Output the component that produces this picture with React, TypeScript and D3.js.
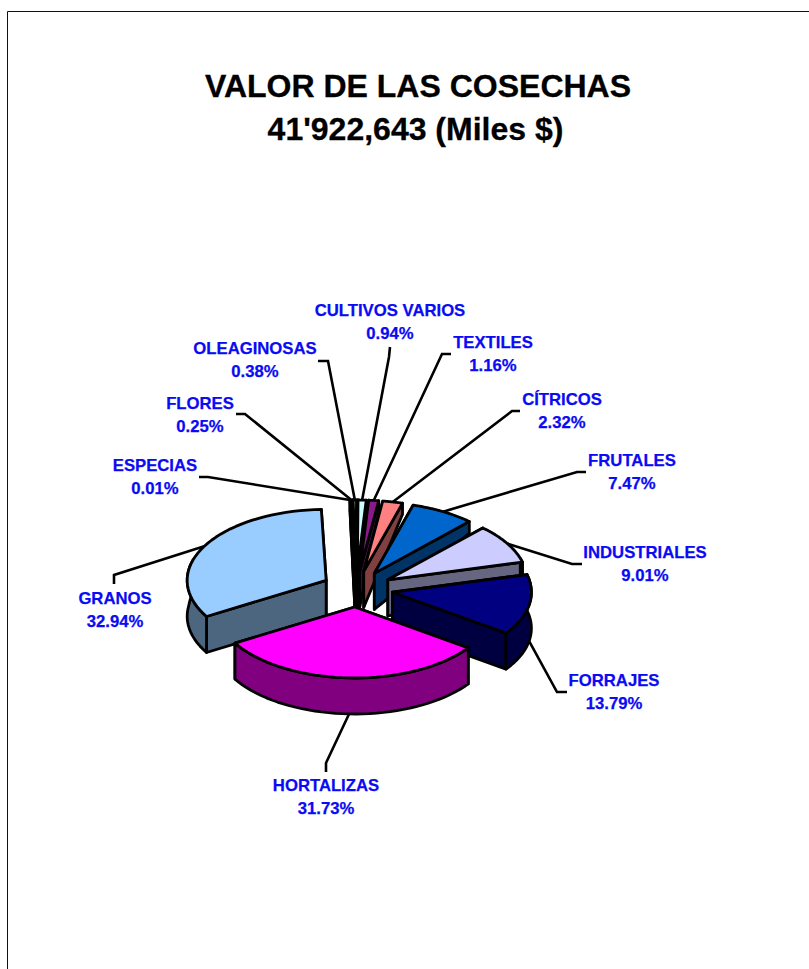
import React from "react";
import * as d3 from "d3";

const WIDTH = 809;
const HEIGHT = 969;

// Data, clockwise from the top of the pie
const categories = ["ESPECIAS", "FLORES", "OLEAGINOSAS", "CULTIVOS VARIOS", "TEXTILES", "CÍTRICOS", "FRUTALES", "INDUSTRIALES", "FORRAJES", "HORTALIZAS", "GRANOS"];
const shares = [0.01, 0.25, 0.38, 0.94, 1.16, 2.32, 7.47, 9.01, 13.79, 31.73, 32.94];
const titleLines = ["VALOR DE LAS COSECHAS", "41'922,643 (Miles $)"];
const titleX = [418, 415.5];

// Styling
const topColors = ["#9999FF", "#993366", "#FFFFCC", "#CCFFFF", "#8A1A8A", "#FF8080", "#0066CC", "#CCCCFF", "#000080", "#FF00FF", "#99CCFF"];
const sideColors = ["#4D4D80", "#4D1A33", "#808066", "#668080", "#450D45", "#804040", "#003366", "#666680", "#000040", "#800080", "#4D6680"];
const drawOrder = [0, 1, 2, 3, 4, 5, 6, 7, 8, 10, 9];

// Layout of the label blocks: centre x, first baseline, and the leader's elbow
const labelX = [155, 200, 255, 390, 493, 562, 632, 645, 614, 326, 115];
const labelY = [471, 409, 354, 316, 348, 405, 466, 558, 686, 791, 604];
const leaderStart = [[199, 477], [236, 414], [318, 361], [390, 347], [451, 354], [520, 411], [586, 472], [582, 564], [567, 692], [326, 772], [114, 584]];
const leaderElbow = [[208, 477], [245, 414], [328, 361], [389, 357], [442, 354], [512, 411], [577, 472], [572, 564], [557, 692], [326, 763], [114, 575]];

const CX = 356, CY = 589, RX = 139, RY = 71, EX_LEFT = 34, EX_RIGHT = 37, EY = 18;
const ROT = (-2 * Math.PI) / 180;
const depth = (y: number) => Math.max(11, Math.min(36, 12 + (y - 522) * 0.5));

const pie = d3.pie<number>().sort(null).startAngle(ROT).endAngle(ROT + 2 * Math.PI);
const arcs = pie(shares);
const lineGen = d3.line<number[]>().x((d) => d[0]).y((d) => d[1]);

type Pt = [number, number];

function sliceParts(i: number) {
  const a0 = arcs[i].startAngle, a1 = arcs[i].endAngle, mid = (a0 + a1) / 2;
  const sm = Math.sin(mid);
  const ax = CX + (sm > 0 ? EX_RIGHT : EX_LEFT) * sm, ay = CY - EY * Math.cos(mid);
  const rim = (t: number): Pt => [ax + RX * Math.sin(t), ay - RY * Math.cos(t)];
  const down = (p: Pt): Pt => [p[0], p[1] + depth(p[1])];
  const steps = d3.range(0, 41).map((k) => a0 + ((a1 - a0) * k) / 40);
  const apex: Pt = [ax, ay];
  const rimPts = steps.map(rim);
  const top = lineGen([apex, ...rimPts])! + "Z";
  const wall = (t: number) => {
    const p = rim(t);
    return { y: p[1], d: lineGen([apex, p, down(p), down(apex)])! + "Z" };
  };
  const walls = [wall(a0), wall(a1)].sort((a, b) => a.y - b.y).map((w) => w.d);
  // outer wall: only the part of the rim that turns towards the viewer
  const front = steps.filter((t) => t >= Math.PI * 0.4 && t < Math.PI * 1.6).map(rim);
  const outer = front.length > 1 ? lineGen([...front, ...front.slice().reverse().map(down)])! + "Z" : null;
  return { top, walls, outer, anchor: rim(mid), anchorLow: down(rim(mid)), mid };
}

const parts = categories.map((_, i) => sliceParts(i));

export default function App() {
  const font = "'Liberation Sans', Arial, sans-serif";
  return (
    <svg width={WIDTH} height={HEIGHT} style={{ position: "absolute", left: 0, top: 0, background: "#fff" }}>
      <path d={`M7.5,${HEIGHT}V11.5H${WIDTH}`} fill="none" stroke="#111" strokeWidth={1} />
      {titleLines.map((t, i) => (
        <text key={t} x={titleX[i]} y={97 + i * 43} textAnchor="middle" fontFamily={font} fontWeight="bold" fontSize={32} fill="#000" stroke="#000" strokeWidth={0.3}>{t}</text>
      ))}
      {categories.map((c, i) => {
        const p = parts[i];
        const facingFront = Math.abs(p.mid - Math.PI) < Math.PI / 3;
        const end = facingFront || (p.mid > Math.PI * 0.4 && p.mid < Math.PI * 0.7) ? p.anchorLow : p.anchor;
        return (
          <path key={c} d={lineGen([leaderStart[i], leaderElbow[i], end])!} fill="none" stroke="#000" strokeWidth={2.6} />
        );
      })}
      {drawOrder.map((i) => {
        const p = parts[i];
        const common = { stroke: "#000", strokeWidth: 2.8, strokeLinejoin: "round" as const };
        return (
          <g key={categories[i]}>
            {p.walls.map((d, k) => <path key={k} d={d} fill={sideColors[i]} {...common} />)}
            {p.outer && <path d={p.outer} fill={sideColors[i]} {...common} />}
            <path d={p.top} fill={topColors[i]} {...common} />
          </g>
        );
      })}
      {categories.map((c, i) => (
        <g key={c} fontFamily={font} fontWeight="bold" fontSize={16.7} fill="#0A0AF5" stroke="#0A0AF5" strokeWidth={0.25} textAnchor="middle">
          <text x={labelX[i]} y={labelY[i]}>{c}</text>
          <text x={labelX[i]} y={labelY[i] + 23}>{d3.format(".2f")(shares[i])}%</text>
        </g>
      ))}
    </svg>
  );
}
